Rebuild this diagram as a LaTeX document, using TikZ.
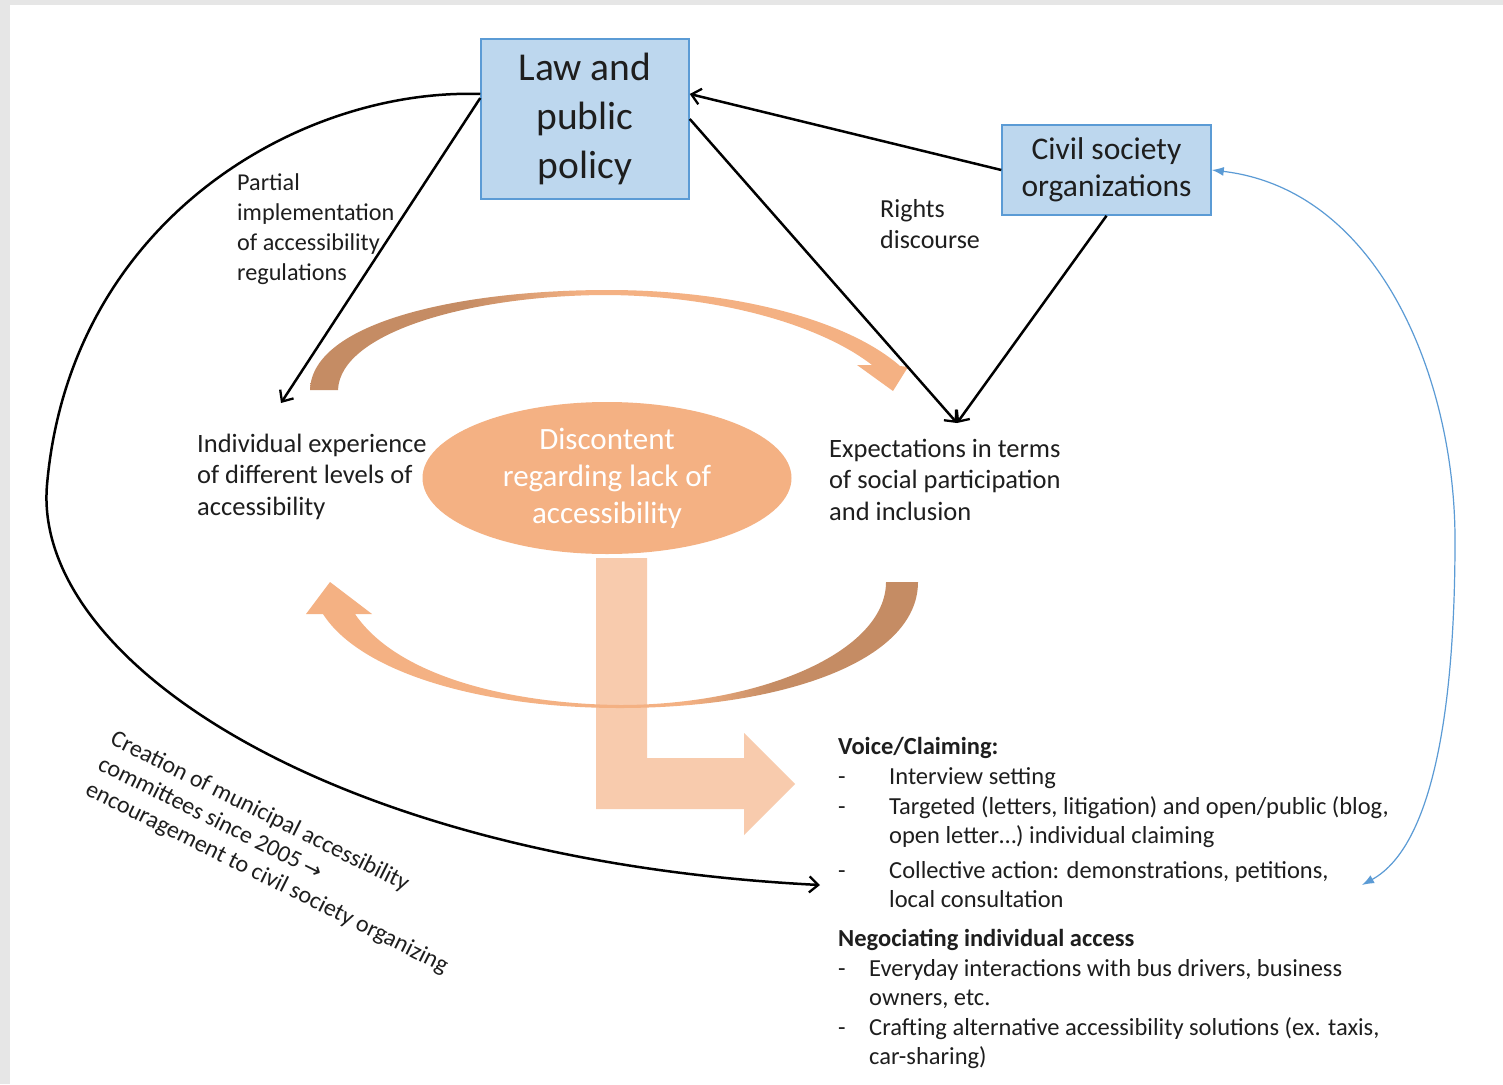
\documentclass[tikz,border=0pt]{standalone}
\usepackage{fontspec}
\setmainfont{Carlito}
\newfontfamily\arrowfont{DejaVu Sans}
\usetikzlibrary{arrows.meta,shapes.geometric}

\definecolor{boxfill}{HTML}{BDD7EE}
\definecolor{boxline}{HTML}{5B9BD5}
\definecolor{org}{HTML}{F4B183}
\definecolor{orglight}{HTML}{F8CBAD}
\definecolor{brn}{HTML}{C58C64}
\definecolor{txtc}{HTML}{1E1E1E}
\definecolor{frame}{HTML}{E6E6E6}

% ribbon shadings: dark underside on one end of each curved arrow
\pgfdeclarehorizontalshading{ribbonA}{100bp}{color(0bp)=(brn); color(38bp)=(brn); color(48bp)=(org); color(100bp)=(org)}
\pgfdeclarehorizontalshading{ribbonB}{100bp}{color(0bp)=(org); color(56bp)=(org); color(63bp)=(brn); color(100bp)=(brn)}

% multi-line text nodes are anchored at the baseline of their last line
\tikzset{
  actor/.style={draw=boxline, line width=1.5pt, fill=boxfill, text=txtc, inner sep=0pt, align=center},
  txt/.style={font=\fontsize{26.5}{31.5}\selectfont, align=left, inner sep=0pt, text=txtc, anchor=base west},
  small/.style={font=\fontsize{24.2}{29.7}\selectfont, align=left, inner sep=0pt, text=txtc, anchor=base west},
  listtxt/.style={font=\fontsize{24.5}{29.6}\selectfont, align=left, inner sep=0pt, text=txtc, anchor=base west},
  link/.style={line width=2.5pt, draw=black, -{Straight Barb[length=9pt,width=16pt,line width=2.3pt]}},
  bluelink/.style={line width=1.2pt, draw=boxline, {Latex[length=12pt,width=9pt]}-{Latex[length=12pt,width=9pt]}},
}

\begin{document}
\begin{tikzpicture}[x=1pt, y=-1pt]
\useasboundingbox (0,0) rectangle (1503,1084);
\fill[frame] (0,0) rectangle (1503,1084);
\fill[white] (10,5) rectangle (1503,1084);

% bent arrow leading from the cycle to the responses
\fill[orglight] (596,558) -- (647,558) -- (647,758) -- (744,758) -- (744,733)
  -- (795,784) -- (744,835) -- (744,809) -- (596,809) -- cycle;

% upper curved arrow (left to right)
\path[shading=ribbonA] (310,390) .. controls (312,322) and (460,290) .. (608,290)
  .. controls (740,290) and (850,322) .. (900,366)
  -- (908,367) -- (893,391) -- (857,365) -- (872,365)
  .. controls (822,326) and (722,296) .. (608,295)
  .. controls (472,295) and (340,332) .. (338,390) -- cycle;

% lower curved arrow (right to left)
\path[shading=ribbonB] (918,582) .. controls (918,662) and (780,708) .. (620,708)
  .. controls (480,708) and (360,672) .. (323,614)
  -- (306,614) -- (330,582) -- (372,614) -- (355,614)
  .. controls (400,680) and (520,704) .. (620,705)
  .. controls (760,705) and (886,652) .. (886,582) -- cycle;

% central ellipse
\node[ellipse, fill=org, minimum width=369pt, minimum height=152pt, inner sep=0pt,
  text=white, align=center, font=\fontsize{31}{37}\selectfont] (disc) at (607,478)
  {Discontent\\regarding lack of\\accessibility};

% actors
\node[actor, minimum width=208pt, minimum height=160pt, font=\fontsize{39.5}{49}\selectfont]
  (law) at (585,119) {Law and\\public\\policy};
\node[actor, minimum width=209pt, minimum height=90pt, font=\fontsize{31.5}{37}\selectfont]
  (cso) at (1106.5,170) {Civil society\\organizations};

% experiences and expectations
\node[txt] (indiv) at (197,515) {Individual experience\\of different levels of\\accessibility};
\node[txt] (expect) at (829,520) {Expectations in terms\\of social participation\\and inclusion};

% arrow labels
\node[small] (partial) at (237,280) {Partial\\implementation\\of accessibility\\regulations};
\node[small, font=\fontsize{26}{31}\selectfont] (rights) at (880,248) {Rights\\discourse};
\node[small, rotate=-26.5, font=\fontsize{24}{28}\selectfont] (creation) at (84,794)
  {Creation of municipal accessibility\\committees since 2005 {\arrowfont\fontsize{22}{28}\selectfont →}\\encouragement to civil society organizing};

% responses
\node[listtxt] (voice) at (838,754) {\textbf{Voice/Claiming:}};
\node[listtxt] (d1) at (838,784) {-};
\node[listtxt] (i1) at (889,784) {Interview setting};
\node[listtxt] (d2) at (838,814) {-};
\node[listtxt] (i2) at (889,843.6) {Targeted (letters, litigation) and open/public (blog,\\open letter…) individual claiming};
\node[listtxt] (d3) at (838,878) {-};
\node[listtxt] (i3) at (889,907.6) {Collective action: demonstrations, petitions,\\local consultation};
\node[listtxt] (nego) at (838,946) {\textbf{Negociating individual access}};
\node[listtxt] (d4) at (838,976) {-};
\node[listtxt] (i4) at (869,1005.6) {Everyday interactions with bus drivers, business\\owners, etc.};
\node[listtxt] (d5) at (838,1035) {-};
\node[listtxt] (i5) at (869,1064.6) {Crafting alternative accessibility solutions (ex. taxis,\\car-sharing)};

% arrow end points
\coordinate (indivTip) at (281,403);
\coordinate (expTip) at (957,423);
\coordinate (voiceTip) at (820,885);
\coordinate (collTip) at (1362,885);

% connectors
\draw[link] ([yshift=21pt]law.west) -- (indivTip);
\draw[link] (law.east) -- (expTip);
\draw[link] (cso.south) -- (expTip);
\draw[link] (cso.west) -- ([yshift=25pt]law.east);
\draw[link] ([yshift=25pt]law.west) .. controls (300,88) and (70,220) .. (47,485)
  .. controls (32,660) and (330,860) .. (voiceTip);
\draw[bluelink] (cso.east) .. controls (1380,190) and (1455,380) .. (1455,540)
  .. controls (1455,700) and (1435,845) .. (collTip);
\end{tikzpicture}
\end{document}
